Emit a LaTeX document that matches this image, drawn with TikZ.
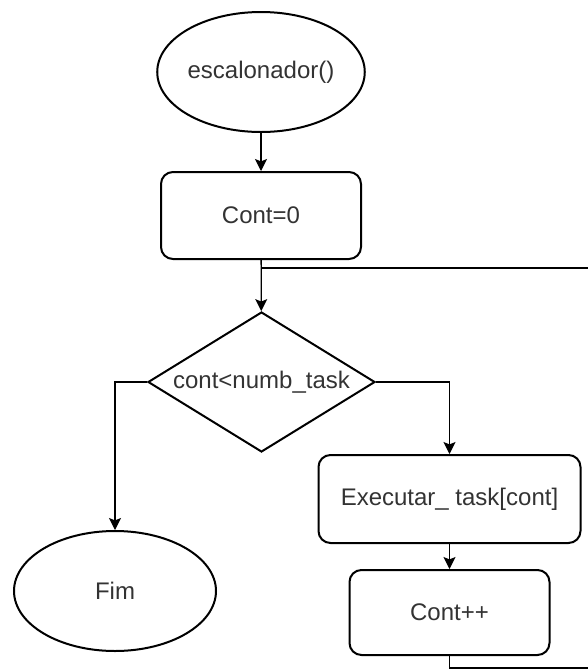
\documentclass[tikz,border=0pt]{standalone}
\usepackage{fontspec}
\setmainfont{Liberation Sans}
\usepackage{tikz}
\usetikzlibrary{arrows.meta, positioning, shapes.geometric}
\usepackage{xcolor}
\definecolor{textgray}{RGB}{51,51,51}

\begin{document}
\begin{tikzpicture}[
  x=0.5pt, y=-0.5pt,
  every node/.style={draw, line width=1pt, font=\fontsize{12}{14}\selectfont,
                     text=textgray, inner sep=0pt},
  terminal/.style={ellipse, minimum width=101pt, minimum height=60pt},
  process/.style={rectangle, rounded corners=6pt},
  decision/.style={diamond, aspect=1.62, minimum width=113.5pt, minimum height=70pt},
  edge/.style={line width=0.65pt, -{Stealth[length=6pt, width=6pt, inset=1.2pt]}},
  line/.style={line width=0.65pt}
]

\clip (0,0) rectangle (588,670);

%--- Node positions ---
\node[terminal] (start) at (261, 72)  {escalonador()};
\node[process, minimum width=100pt, minimum height=43.5pt] (zero) at (261, 215.5) {Cont=0};
\node[decision] (test) at (261.5, 382) {cont<numb\_task};
\node[terminal] (fim)   at (115, 591) {Fim};
\node[process, minimum width=131pt, minimum height=44pt] (exec) at (449.5, 499) {Executar\_ task[cont]};
\node[process, minimum width=100pt, minimum height=42.5pt] (incr) at (449.5, 612.5) {Cont++};

%--- Loop corners ---
\coordinate (join) at (261, 268);
\coordinate (down) at (600, 668);
\coordinate (back) at (600, 268);

%--- Directed edges ---
\draw[edge] (start) -- (zero);
\draw[edge] (zero) -- (test);
\draw[edge] (test.west) -| (fim.north);
\draw[edge] (test.east) -| (exec.north);
\draw[edge] (exec) -- (incr);
\draw[line] (incr.south) |- (down) -- (back) -- (join);

\end{tikzpicture}
\end{document}
